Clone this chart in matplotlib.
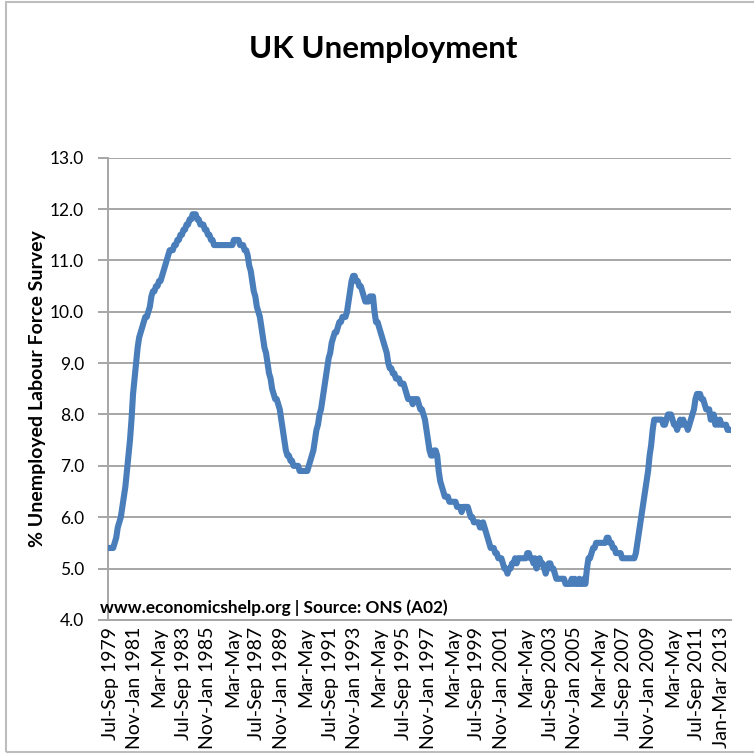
'''UK unemployment, LFS rolling quarter rate
redrawn from the economicshelp chart
'''
import matplotlib.pyplot as plt
from matplotlib.patches import Rectangle

# rolling 3 month rate, one value per month, first one is Jul-Sep 1979
RATE = [
    5.4, 5.4, 5.4, 5.5, 5.6, 5.8, 5.9, 6.0, 6.2, 6.4, 6.6, 6.9,
    7.2, 7.5, 7.9, 8.4, 8.7, 9.0, 9.3, 9.5, 9.6, 9.7, 9.8, 9.9,
    9.9, 10.0, 10.1, 10.3, 10.4, 10.4, 10.5, 10.5, 10.6, 10.6, 10.7, 10.8,
    10.9, 11.0, 11.1, 11.2, 11.2, 11.2, 11.3, 11.3, 11.4, 11.4, 11.5, 11.5,
    11.6, 11.6, 11.7, 11.7, 11.8, 11.8, 11.9, 11.9, 11.9, 11.8, 11.8, 11.7,
    11.7, 11.7, 11.6, 11.6, 11.5, 11.5, 11.4, 11.4, 11.3, 11.3, 11.3, 11.3,
    11.3, 11.3, 11.3, 11.3, 11.3, 11.3, 11.3, 11.3, 11.3, 11.4, 11.4, 11.4,
    11.4, 11.3, 11.3, 11.3, 11.2, 11.2, 11.1, 10.9, 10.8, 10.6, 10.4, 10.3,
    10.1, 10.0, 9.9, 9.7, 9.5, 9.3, 9.2, 9.0, 8.8, 8.7, 8.5, 8.4,
    8.3, 8.3, 8.2, 8.1, 7.9, 7.7, 7.5, 7.3, 7.2, 7.2, 7.1, 7.1,
    7.0, 7.0, 7.0, 7.0, 6.9, 6.9, 6.9, 6.9, 6.9, 6.9, 7.0, 7.1,
    7.2, 7.3, 7.5, 7.7, 7.8, 8.0, 8.1, 8.3, 8.5, 8.7, 8.9, 9.1,
    9.2, 9.4, 9.5, 9.6, 9.6, 9.7, 9.8, 9.8, 9.9, 9.9, 9.9, 10.0,
    10.2, 10.4, 10.6, 10.7, 10.7, 10.6, 10.6, 10.5, 10.5, 10.4, 10.3, 10.2,
    10.2, 10.2, 10.3, 10.3, 10.3, 10.0, 9.8, 9.8, 9.7, 9.6, 9.5, 9.4,
    9.3, 9.2, 9.0, 8.9, 8.9, 8.8, 8.8, 8.7, 8.7, 8.7, 8.6, 8.6,
    8.6, 8.5, 8.4, 8.3, 8.3, 8.3, 8.2, 8.3, 8.3, 8.3, 8.2, 8.1,
    8.1, 8.0, 7.9, 7.7, 7.5, 7.3, 7.2, 7.2, 7.3, 7.3, 7.2, 6.9,
    6.7, 6.6, 6.5, 6.4, 6.4, 6.4, 6.3, 6.3, 6.3, 6.3, 6.3, 6.2,
    6.2, 6.2, 6.1, 6.2, 6.2, 6.2, 6.2, 6.1, 6.0, 6.0, 5.9, 5.9,
    5.9, 5.9, 5.8, 5.8, 5.9, 5.8, 5.7, 5.6, 5.5, 5.4, 5.4, 5.4,
    5.3, 5.3, 5.2, 5.2, 5.2, 5.1, 5.0, 5.0, 4.9, 5.0, 5.0, 5.1,
    5.1, 5.2, 5.1, 5.2, 5.2, 5.2, 5.2, 5.2, 5.2, 5.3, 5.3, 5.2,
    5.2, 5.1, 5.2, 5.0, 5.1, 5.2, 5.1, 5.1, 5.0, 4.9, 5.0, 5.1,
    5.1, 5.0, 5.0, 4.9, 4.8, 4.8, 4.8, 4.8, 4.8, 4.8, 4.7, 4.7,
    4.7, 4.7, 4.8, 4.7, 4.8, 4.7, 4.7, 4.8, 4.7, 4.7, 4.8, 4.7,
    5.0, 5.2, 5.2, 5.3, 5.4, 5.4, 5.5, 5.5, 5.5, 5.5, 5.5, 5.5,
    5.5, 5.6, 5.6, 5.5, 5.5, 5.4, 5.4, 5.3, 5.3, 5.3, 5.3, 5.2,
    5.2, 5.2, 5.2, 5.2, 5.2, 5.2, 5.2, 5.2, 5.3, 5.5, 5.7, 5.9,
    6.1, 6.3, 6.5, 6.7, 6.9, 7.2, 7.4, 7.7, 7.9, 7.9, 7.9, 7.9,
    7.9, 7.9, 7.8, 7.8, 7.9, 8.0, 8.0, 8.0, 7.9, 7.8, 7.8, 7.7,
    7.8, 7.9, 7.8, 7.9, 7.8, 7.8, 7.7, 7.8, 7.9, 8.0, 8.1, 8.3,
    8.4, 8.4, 8.4, 8.3, 8.3, 8.2, 8.1, 8.1, 8.1, 7.9, 7.9, 8.0,
    7.8, 7.9, 7.8, 7.9, 7.8, 7.8, 7.8, 7.8, 7.7, 7.7,
]

# category labels shown by excel, one every 16 months
XLABELS = [
    'Jul-Sep 1979', 'Nov-Jan 1981', 'Mar-May', 'Jul-Sep 1983', 'Nov-Jan 1985',
    'Mar-May', 'Jul-Sep 1987', 'Nov-Jan 1989', 'Mar-May', 'Jul-Sep 1991',
    'Nov-Jan 1993', 'Mar-May', 'Jul-Sep 1995', 'Nov-Jan 1997', 'Mar-May',
    'Jul-Sep 1999', 'Nov-Jan 2001', 'Mar-May', 'Jul-Sep 2003', 'Nov-Jan 2005',
    'Mar-May', 'Jul-Sep 2007', 'Nov-Jan 2009', 'Mar-May', 'Jul-Sep 2011',
    'Jan-Mar 2013',
]
STEP = 16

YTICKS = [4.0, 5.0, 6.0, 7.0, 8.0, 9.0, 10.0, 11.0, 12.0, 13.0]

plt.rcParams['font.family'] = ['Lato', 'DejaVu Sans']

X = list(range(len(RATE)))
GRID = '#a6a6a6'

fig = plt.figure(figsize=(7.54, 7.55), dpi=100)
ax = fig.add_axes([0.143, 0.179, 0.827, 0.612])

# chart border like the excel frame
fig.patches.append(Rectangle((0.008, 0.004), 1.2, 0.993, transform=fig.transFigure,
                             fill=False, edgecolor='#bdbdbd', lw=1.5))

ax.plot(X, RATE, color='#4a7ebb', lw=4.4, solid_joinstyle='round', zorder=3)

ax.set_xlim(-1.5, len(RATE) + 0.5)
ax.set_ylim(4.0, 13.0)
ax.set_yticks(YTICKS)
ax.set_yticklabels(['%.1f' % t for t in YTICKS], fontsize=12.5)
ax.set_xticks([STEP * k for k in range(len(XLABELS))])
ax.set_xticklabels(XLABELS, rotation=90, fontsize=14)
ax.yaxis.grid(True, color=GRID, lw=1.4)
ax.set_axisbelow(True)

for s in ['top', 'right']:
    ax.spines[s].set_visible(False)
ax.spines['left'].set_color(GRID)
ax.spines['bottom'].set_color(GRID)
ax.spines['left'].set_linewidth(1.4)
ax.spines['bottom'].set_linewidth(1.4)
ax.tick_params(axis='y', color=GRID, width=1.4, length=7, pad=10)
ax.tick_params(axis='x', length=0, pad=5)

ax.set_ylabel('% Unemployed Labour Force Survey', fontsize=14, fontweight='bold')
ax.yaxis.set_label_coords(-0.099, 0.5)
fig.text(0.508, 0.935, 'UK Unemployment', ha='center', va='center', fontsize=22.5, fontweight='bold')
fig.text(0.133, 0.195, 'www.economicshelp.org | Source: ONS (A02)', ha='left', va='center',
         fontsize=12.4, fontweight='bold')

fig.savefig('out.png', dpi=100)
plt.close()
